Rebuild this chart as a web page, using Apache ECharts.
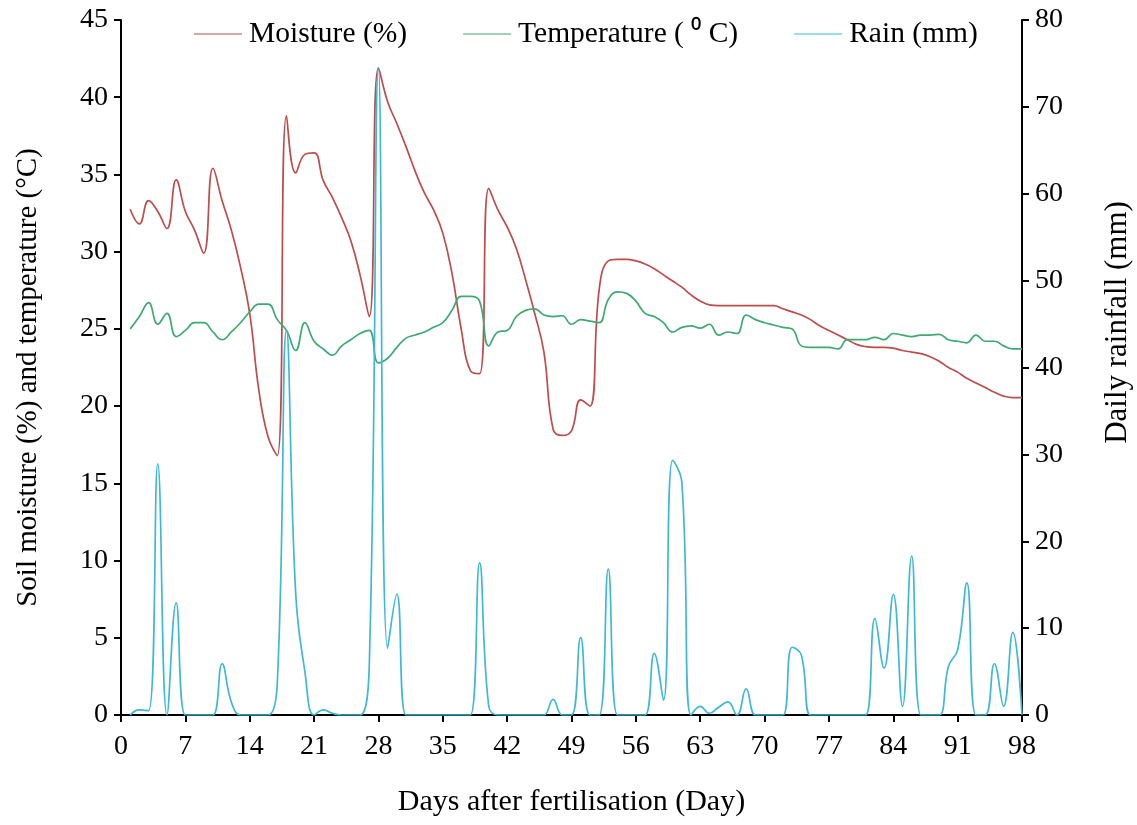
<!DOCTYPE html>
<html>
<head>
<meta charset="utf-8">
<script src="https://cdn.jsdelivr.net/npm/echarts@6/dist/echarts.min.js"></script>
<style>
html,body{margin:0;padding:0;background:#fff;}
#chart{width:1137px;height:825px;}
</style>
</head>
<body>
<div id="chart"></div>
<script>
var days = [1,2,3,4,5,6,7,8,9,10,11,12,13,14,15,16,17,18,19,20,21,22,23,24,25,26,27,28,29,30,31,32,33,34,35,36,37,38,39,40,41,42,43,44,45,46,47,48,49,50,51,52,53,54,55,56,57,58,59,60,61,62,63,64,65,66,67,68,69,70,71,72,73,74,75,76,77,78,79,80,81,82,83,84,85,86,87,88,89,90,91,92,93,94,95,96,97,98];

var moisture = [32.75,31.8,33.3,32.6,31.5,34.65,32.6,31.4,29.9,35.4,33.3,31.4,29.0,26.0,21.0,18.0,16.8,38.8,35.1,36.3,36.4,34.6,33.5,32.2,30.7,28.5,25.8,41.9,39.7,38.3,36.8,35.2,33.8,32.7,31.2,28.6,25.0,22.3,22.1,34.1,32.7,31.6,30.2,28.2,26.0,23.5,18.5,18.1,18.4,20.4,20.0,27.5,29.4,29.5,29.5,29.4,29.2,28.9,28.5,28.1,27.7,27.2,26.8,26.55,26.5,26.5,26.5,26.5,26.5,26.5,26.5,26.3,26.1,25.9,25.6,25.2,24.9,24.6,24.3,24.0,23.85,23.8,23.8,23.75,23.6,23.5,23.4,23.2,22.9,22.5,22.2,21.8,21.5,21.2,20.9,20.65,20.55,20.55];

var temperature = [25.0,25.8,26.7,25.3,26.0,24.5,24.9,25.4,25.4,24.8,24.3,24.8,25.4,26.1,26.6,26.6,25.6,24.9,23.6,25.4,24.2,23.7,23.3,23.9,24.3,24.7,24.9,22.8,23.1,23.8,24.4,24.6,24.8,25.1,25.4,26.2,27.1,27.1,26.8,23.9,24.8,24.9,25.8,26.2,26.3,25.9,25.8,25.85,25.3,25.6,25.5,25.4,26.9,27.4,27.3,26.8,26.0,25.8,25.4,24.8,25.1,25.2,25.05,25.3,24.6,24.8,24.7,25.9,25.6,25.4,25.25,25.1,25.0,23.9,23.8,23.8,23.8,23.7,24.3,24.3,24.3,24.45,24.3,24.7,24.6,24.5,24.6,24.6,24.65,24.3,24.2,24.1,24.6,24.2,24.2,23.9,23.7,23.7];

var rain = [0,0.6,0.5,28.9,0,12.9,0,0,0,0,5.9,1.5,0,0,0,0,3.7,44.3,14.0,5.0,0,0.6,0.2,0,0,0,5.6,74.5,7.7,13.9,0,0,0,0,0,0,0,0,17.5,1.0,0,0,0,0,0,0,1.8,0,0,8.9,0,0,16.8,0,0,0,0,7.1,1.7,29.3,26.8,0,1.0,0.2,0.9,1.5,0,3.0,0,0,0,0,7.8,6.9,0,0,0,0,0,0,0,11.1,5.4,13.9,1.0,18.3,0,0,0,5.6,7.5,15.2,0,0,5.9,1.0,9.5,0];

var xTicks = [0,7,14,21,28,35,42,49,56,63,70,77,84,91,98];
var leftTicks = [0,5,10,15,20,25,30,35,40,45];
var rightTicks = [0,10,20,30,40,50,60,70,80];

function pairs(vals){ return days.map(function(d,i){ return [d, vals[i]]; }); }

var FONT = '"Liberation Serif", "Times New Roman", serif';
var chart = echarts.init(document.getElementById('chart'), null, {renderer:'canvas'});
var axisLineStyle = {color:'#000', width:2};
chart.setOption({
  backgroundColor:'#fff',
  animation:false,
  textStyle:{fontFamily:FONT},
  grid:{left:121, right:115, top:20, bottom:110, containLabel:false, outerBoundsMode:'none'},
  legend:{
    top:14, left:189,
    itemWidth:48, itemHeight:10, itemGap:56,
    icon:'path://M0,5 L48,5 L48,6 L0,6 Z',
    textStyle:{fontFamily:FONT, fontSize:29.5, color:'#000', padding:[0,0,0,2]},
    data:['Moisture (%)','Temperature ( \u2070 C)','Rain (mm)']
  },
  xAxis:{
    type:'value', min:xTicks[0], max:xTicks[xTicks.length-1], interval:7,
    name:'Days after fertilisation (Day)', nameLocation:'middle', nameGap:72,
    nameTextStyle:{fontFamily:FONT, fontSize:30, color:'#000'},
    axisLine:{show:true, onZero:false, lineStyle:axisLineStyle},
    axisTick:{show:true, inside:false, length:7, lineStyle:{color:'#000', width:2}},
    axisLabel:{fontFamily:FONT, fontSize:28, color:'#000', margin:18},
    splitLine:{show:false}
  },
  yAxis:[{
    type:'value', min:leftTicks[0], max:leftTicks[leftTicks.length-1], interval:5,
    name:'Soil moisture (%) and temperature (\u00B0C)', nameLocation:'middle', nameGap:78, nameRotate:90,
    nameTextStyle:{fontFamily:FONT, fontSize:29, color:'#000', padding:[0,20,0,0]},
    axisLine:{show:true, lineStyle:axisLineStyle},
    axisTick:{show:true, inside:false, length:7, lineStyle:{color:'#000', width:2}},
    axisLabel:{fontFamily:FONT, fontSize:28, color:'#000', margin:13},
    splitLine:{show:false}
  },{
    type:'value', min:rightTicks[0], max:rightTicks[rightTicks.length-1], interval:10, position:'right',
    name:'Daily rainfall (mm)', nameLocation:'middle', nameGap:80, nameRotate:90,
    nameTextStyle:{fontFamily:FONT, fontSize:31, color:'#000', padding:[0,0,0,90]},
    axisLine:{show:true, lineStyle:axisLineStyle},
    axisTick:{show:true, inside:false, length:7, lineStyle:{color:'#000', width:2}},
    axisLabel:{fontFamily:FONT, fontSize:28, color:'#000', margin:13},
    splitLine:{show:false}
  }],
  series:[{
    name:'Moisture (%)', type:'line', yAxisIndex:0, data:pairs(moisture),
    smooth:0.45, symbol:'none', lineStyle:{color:'#BF4B4B', width:1.7}, itemStyle:{color:'#BF4B4B'}
  },{
    name:'Temperature ( \u2070 C)', type:'line', yAxisIndex:0, data:pairs(temperature),
    smooth:0.45, symbol:'none', lineStyle:{color:'#3DAA72', width:1.7}, itemStyle:{color:'#3DAA72'}
  },{
    name:'Rain (mm)', type:'line', yAxisIndex:1, data:pairs(rain),
    smooth:0.45, symbol:'none', lineStyle:{color:'#3DB9D6', width:1.7}, itemStyle:{color:'#3DB9D6'}
  }]
});
</script>
</body>
</html>
